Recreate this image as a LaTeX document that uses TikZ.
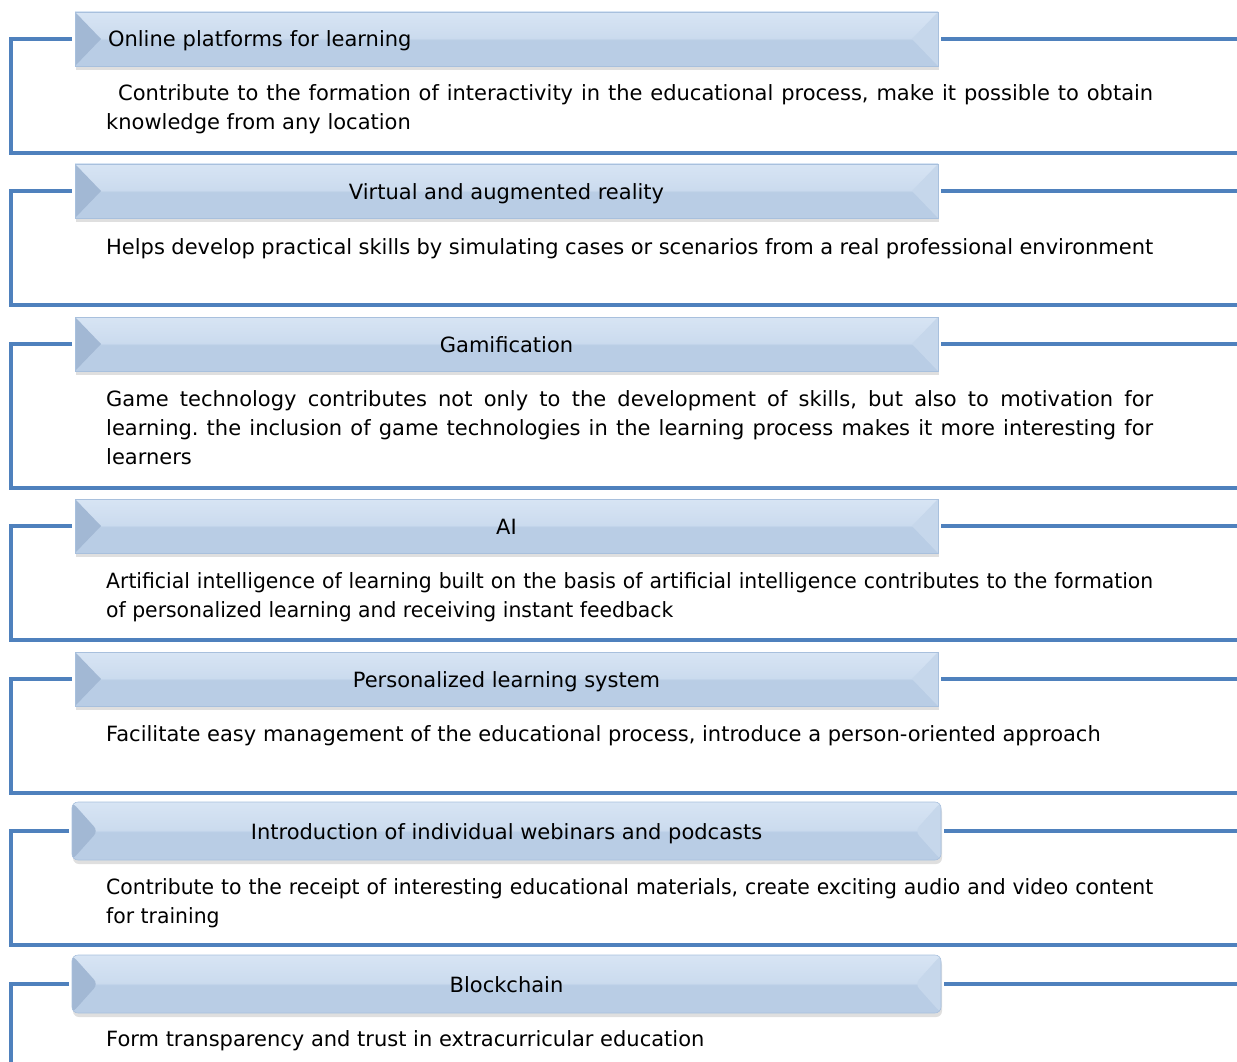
\documentclass[tikz,border=0pt]{standalone}
\usepackage{fontspec}
\setmainfont{DejaVu Sans}
\newfontfamily\narrowfont{DejaVu Sans}[FakeStretch=0.97]
\usetikzlibrary{shadows}

\definecolor{LineColor}{HTML}{4F81BD}
\definecolor{HeadTop}{HTML}{E4EEFA}
\definecolor{HeadMid}{HTML}{CBDBEE}
\definecolor{HeadBot}{HTML}{B9CDE5}
\definecolor{HeadEdge}{HTML}{A8C0DD}
\definecolor{BevelLeft}{HTML}{A2B8D4}
\definecolor{BevelRight}{HTML}{C6D7EB}

\pgfdeclareverticalshading{headshade}{100bp}{color(0bp)=(HeadBot); color(49bp)=(HeadBot); color(51bp)=(HeadMid); color(100bp)=(HeadTop)}

\newcommand\bodyfont{\fontsize{21pt}{29pt}\selectfont\frenchspacing}

\tikzset{
  header/.style={draw=HeadEdge, line width=0.6pt, shading=headshade,
    minimum width=863pt, minimum height=54pt, inner sep=0pt, outer sep=3pt,
    text height=16pt, text depth=0pt, font=\bodyfont,
    drop shadow={opacity=0.25, shadow xshift=1pt, shadow yshift=-4pt},
    path picture={
      \fill[BevelLeft] (path picture bounding box.north west)
        -- ([xshift=26pt]path picture bounding box.west)
        -- (path picture bounding box.south west) -- cycle;
      \fill[BevelRight] (path picture bounding box.north east)
        -- ([xshift=-26pt]path picture bounding box.east)
        -- (path picture bounding box.south east) -- cycle;
    }},
  roundheader/.style={header, rounded corners=6pt, minimum width=869pt, minimum height=58pt},
  desc/.style={anchor=base west, text width=1047pt, inner sep=0pt, align=justify, font=\bodyfont},
  bracket/.style={draw=LineColor, line width=4pt}
}

\begin{document}
\begin{tikzpicture}[x=1pt,y=-1pt]
  % ===== Marco =====
  \useasboundingbox (0,0) rectangle (1237,1062);

  % ===== Encabezados =====
  \node[header, text width=797pt, align=left] (h1) at (506.5,39) {Online platforms for learning};
  \node[header]      (h2) at (506.5,191) {Virtual and augmented reality};
  \node[header]      (h3) at (506.5,344) {Gamification};
  \node[header]      (h4) at (506.5,526) {AI};
  \node[header]      (h5) at (506.5,679) {Personalized learning system};
  \node[roundheader] (h6) at (506.5,831) {Introduction of individual webinars and podcasts};
  \node[roundheader] (h7) at (506.5,984) {Blockchain};

  % ===== Descripciones =====
  \node[desc] (d1) at (106,101) {\hspace*{12pt}Contribute to the formation of interactivity in the educational process, make it possible to obtain\linebreak knowledge from any location};
  \node[desc] (d2) at (106,254) {Helps develop practical skills by simulating cases or scenarios from a real professional environment};
  \node[desc] (d3) at (106,406) {Game technology contributes not only to the development of skills, but also to motivation for\linebreak learning. the inclusion of game technologies in the learning process makes it more interesting for\linebreak learners};
  \node[desc] (d4) at (106,588) {\narrowfont Artificial intelligence of learning built on the basis of artificial intelligence contributes to the formation\linebreak of personalized learning and receiving instant feedback};
  \node[desc] (d5) at (106,741) {Facilitate easy management of the educational process, introduce a person-oriented approach};
  \node[desc] (d6) at (106,894) {\narrowfont Contribute to the receipt of interesting educational materials, create exciting audio and video content\linebreak for training};
  \node[desc] (d7) at (106,1046) {Form transparency and trust in extracurricular education};

  % ===== Conectores =====
  \foreach \i/\yb in {1/153, 2/305, 3/488, 4/640, 5/793, 6/945}{
    \coordinate (c\i) at (11,\yb);
    \coordinate (e\i) at (1239,\yb);
    \draw[bracket] (h\i.west) -| (c\i) -- (e\i);
    \draw[bracket] (h\i.east) -- (h\i.east -| e\i);
  }
  \coordinate (c7) at (11,1064);
  \coordinate (e7) at (1239,984);
  \draw[bracket] (h7.west) -| (c7);
  \draw[bracket] (h7.east) -- (h7.east -| e7);

\end{tikzpicture}
\end{document}
